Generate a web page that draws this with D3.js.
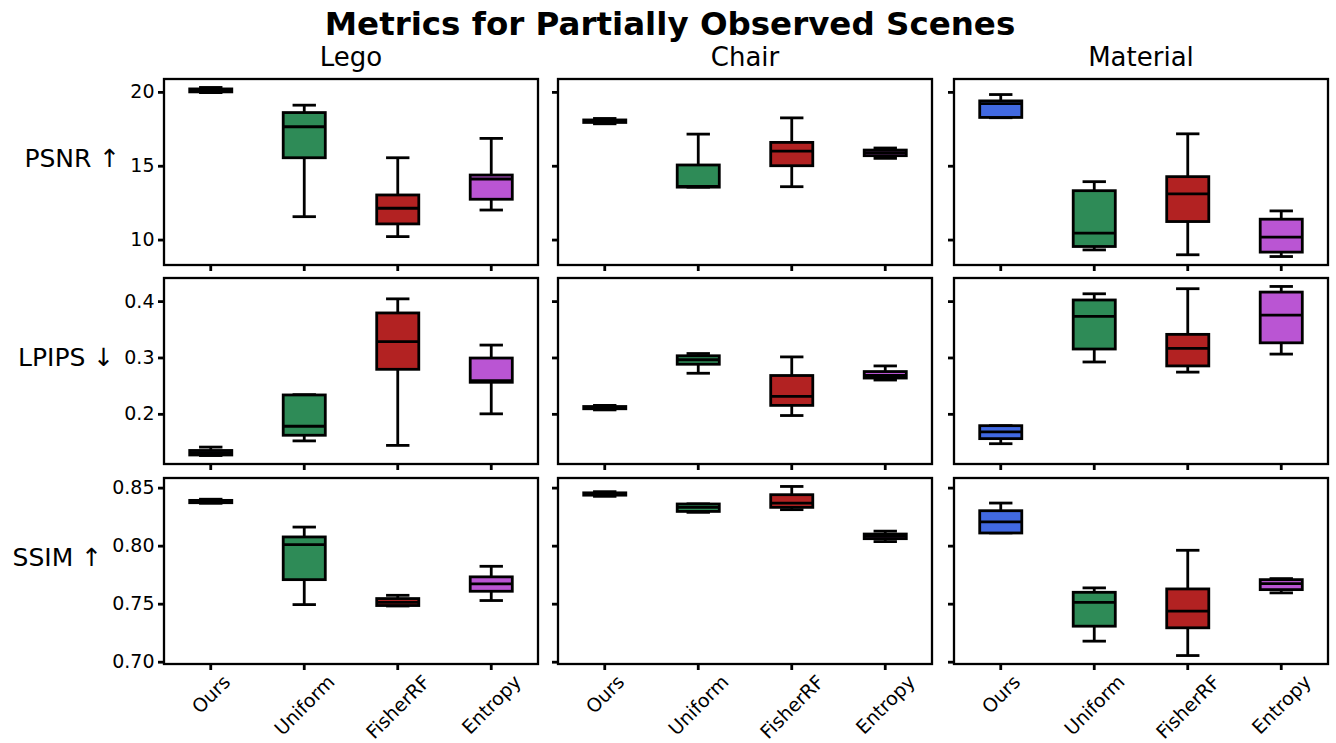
<!DOCTYPE html>
<html>
<head>
<meta charset="utf-8">
<script src="https://cdn.jsdelivr.net/npm/d3@7"></script>
<style>
  html, body { margin: 0; padding: 0; background: #fff; }
  svg { display: block; font-family: "DejaVu Sans", sans-serif; }
</style>
</head>
<body>
<svg id="chart" width="1336" height="743"></svg>
<script>
// ---------------- data ----------------
const methods = ["Ours", "Uniform", "FisherRF", "Entropy"];
const scenes = ["Lego", "Chair", "Material"];
const metricLabels = ["PSNR ↑", "LPIPS ↓", "SSIM ↑"];
const methodColors = ["#4169E1", "#2E8B57", "#B22222", "#BA55D3"];
const title = "Metrics for Partially Observed Scenes";

// each entry: [whiskerLow, q1, median, q3, whiskerHigh], one per method
const psnrLego     = [[19.95, 20.0, 20.1, 20.2, 20.3], [11.55, 15.54, 17.64, 18.6, 19.1], [10.2, 11.06, 12.12, 13.02, 15.54], [12.0, 12.73, 14.1, 14.37, 16.85]];
const psnrChair    = [[17.84, 17.93, 18.0, 18.1, 18.2], [13.55, 13.55, 13.6, 15.05, 17.14], [13.58, 15.0, 15.99, 16.58, 18.24], [15.5, 15.68, 15.88, 16.06, 16.2]];
const psnrMaterial = [[18.25, 18.27, 19.2, 19.39, 19.82], [9.3, 9.53, 10.43, 13.31, 13.92], [8.97, 11.22, 13.09, 14.26, 17.16], [8.85, 9.15, 10.16, 11.38, 11.94]];

const lpipsLego     = [[0.126, 0.127, 0.131, 0.135, 0.141], [0.152, 0.162, 0.178, 0.2335, 0.234], [0.144, 0.279, 0.328, 0.379, 0.404], [0.20, 0.256, 0.259, 0.299, 0.322]];
const lpipsChair    = [[0.207, 0.209, 0.211, 0.213, 0.215], [0.272, 0.288, 0.296, 0.303, 0.307], [0.197, 0.215, 0.231, 0.268, 0.301], [0.26, 0.2635, 0.268, 0.275, 0.285]];
const lpipsMaterial = [[0.147, 0.156, 0.168, 0.179, 0.179], [0.292, 0.315, 0.373, 0.402, 0.413], [0.274, 0.285, 0.316, 0.341, 0.422], [0.306, 0.326, 0.375, 0.416, 0.426]];

const ssimLego     = [[0.8365, 0.837, 0.838, 0.839, 0.840], [0.7492, 0.7707, 0.8009, 0.8075, 0.816], [0.748, 0.7484, 0.7512, 0.7544, 0.7572], [0.7527, 0.7607, 0.767, 0.7731, 0.7822]];
const ssimChair    = [[0.8425, 0.8435, 0.8445, 0.8455, 0.8465], [0.8287, 0.8295, 0.833, 0.8359, 0.836], [0.831, 0.833, 0.8367, 0.8439, 0.851], [0.8035, 0.806, 0.808, 0.810, 0.8125]];
const ssimMaterial = [[0.811, 0.8109, 0.8204, 0.8301, 0.8367], [0.7177, 0.7306, 0.7512, 0.7598, 0.7636], [0.7053, 0.7292, 0.7435, 0.7627, 0.796], [0.7593, 0.7621, 0.7673, 0.7707, 0.7716]];

const psnrTicks = [10, 15, 20];
const lpipsTicks = [0.2, 0.3, 0.4];
const ssimTicks = [0.70, 0.75, 0.80, 0.85];

const rowsData = [
  [psnrLego, psnrChair, psnrMaterial],
  [lpipsLego, lpipsChair, lpipsMaterial],
  [ssimLego, ssimChair, ssimMaterial]
];
const rowTicks = [psnrTicks, lpipsTicks, ssimTicks];
const rowFormats = [d3.format("d"), d3.format(".1f"), d3.format(".2f")];

// ---------------- layout ----------------
const colX = [164, 558, 954];
const rowY = [79, 278, 478];
const panelW = 374, panelH = 186;
const tickLen = 6, tickPad = 3.5;
const tickFont = 19;
const lw = 2.8;

const svg = d3.select("#chart");

svg.append("text")
  .attr("x", 670).attr("y", 35)
  .attr("text-anchor", "middle")
  .attr("font-size", 32.5).attr("font-weight", "bold")
  .text(title);

const x = d3.scaleBand().domain(methods).range([0, panelW]).paddingInner(0).paddingOuter(0);
const bw = x.bandwidth() * 0.45;
const capW = x.bandwidth() * 0.25;

rowsData.forEach((row, r) => {
  const all = row.flat(2);
  const lo = d3.min(all), hi = d3.max(all);
  const m = (hi - lo) * 0.05;
  const y = d3.scaleLinear().domain([lo - m, hi + m]).range([panelH, 0]);

  row.forEach((stats, c) => {
    const g = svg.append("g").attr("transform", `translate(${colX[c]},${rowY[r]})`);

    // y axis
    const yAxis = d3.axisLeft(y).tickValues(rowTicks[r]).tickSize(tickLen).tickPadding(tickPad)
      .tickFormat(c === 0 ? rowFormats[r] : () => "");
    const ya = g.append("g").call(yAxis);
    ya.select(".domain").remove();
    ya.selectAll(".tick line").attr("stroke", "#000").attr("stroke-width", lw);
    ya.selectAll(".tick text").attr("font-size", tickFont).attr("fill", "#000")
      .attr("font-family", "DejaVu Sans, sans-serif");

    // x axis
    const xAxis = d3.axisBottom(x).tickSize(tickLen).tickPadding(tickPad).tickFormat(() => "");
    const xa = g.append("g").attr("transform", `translate(0,${panelH})`).call(xAxis);
    xa.select(".domain").remove();
    xa.selectAll(".tick line").attr("stroke", "#000").attr("stroke-width", lw);

    if (r === 2) {
      methods.forEach(mth => {
        const t = g.append("text")
          .attr("font-size", tickFont)
          .attr("text-anchor", "middle")
          .attr("dominant-baseline", "central")
          .text(mth);
        const w = t.node().getComputedTextLength();
        const h = tickFont * 0.85;
        const half = (w + h) / (2 * Math.SQRT2);
        const cx = x(mth) + x.bandwidth() / 2;
        const cy = panelH + tickLen + 2.5 + half;
        t.attr("transform", `translate(${cx},${cy}) rotate(-45)`);
      });
    }

    // boxes
    stats.forEach((s, i) => {
      const cx = x(methods[i]) + x.bandwidth() / 2;
      const [wl, q1, med, q3, wh] = s;
      const bg = g.append("g");
      bg.append("line").attr("x1", cx).attr("x2", cx).attr("y1", y(q3)).attr("y2", y(wh))
        .attr("stroke", "#000").attr("stroke-width", lw);
      bg.append("line").attr("x1", cx).attr("x2", cx).attr("y1", y(q1)).attr("y2", y(wl))
        .attr("stroke", "#000").attr("stroke-width", lw);
      [wl, wh].forEach(v => {
        bg.append("line").attr("x1", cx - capW / 2).attr("x2", cx + capW / 2)
          .attr("y1", y(v)).attr("y2", y(v))
          .attr("stroke", "#000").attr("stroke-width", lw);
      });
      bg.append("rect")
        .attr("x", cx - bw / 2).attr("width", bw)
        .attr("y", y(q3)).attr("height", Math.max(0, y(q1) - y(q3)))
        .attr("fill", methodColors[i]).attr("stroke", "#000").attr("stroke-width", lw);
      bg.append("line").attr("x1", cx - bw / 2).attr("x2", cx + bw / 2)
        .attr("y1", y(med)).attr("y2", y(med))
        .attr("stroke", "#000").attr("stroke-width", lw);
    });

    // frame
    g.append("rect").attr("x", 0).attr("y", 0).attr("width", panelW).attr("height", panelH)
      .attr("fill", "none").attr("stroke", "#000").attr("stroke-width", 2.3);

    // column titles
    if (r === 0) {
      svg.append("text")
        .attr("x", colX[c] + panelW / 2).attr("y", 66)
        .attr("text-anchor", "middle").attr("font-size", 26)
        .text(scenes[c]);
    }

    // row label
    if (c === 0) {
      let maxW = 0;
      ya.selectAll(".tick text").each(function () {
        maxW = Math.max(maxW, this.getComputedTextLength());
      });
      svg.append("text")
        .attr("x", colX[0] - tickLen - tickPad - maxW - 10)
        .attr("y", rowY[r] + panelH / 2 - 5)
        .attr("text-anchor", "end").attr("font-size", 25)
        .text(metricLabels[r]);
    }
  });
});
</script>
</body>
</html>
